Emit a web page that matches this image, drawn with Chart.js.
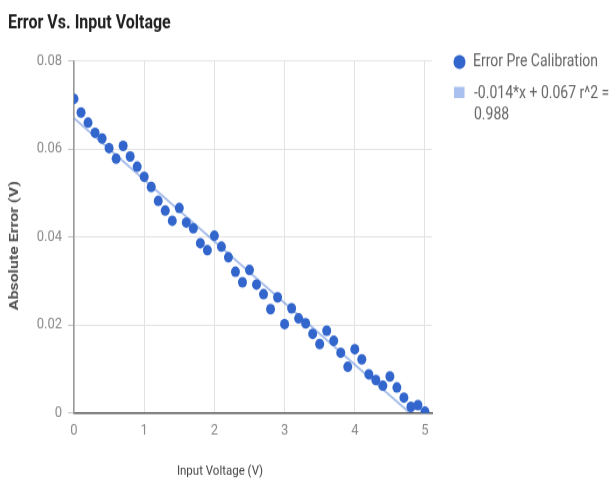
<!DOCTYPE html>
<html>
<head>
<meta charset="utf-8">
<title>Error Vs. Input Voltage</title>
<script src="https://cdn.jsdelivr.net/npm/chart.js@4.4.1/dist/chart.umd.min.js"></script>
<style>
  html, body { margin: 0; padding: 0; background: #fff; }
  body { width: 613px; height: 483px; }
  /* the reference is stretched vertically, so the whole chart is too */
  #wrap { width: 613px; height: 409px; transform: scaleY(1.181); transform-origin: 0 0; }
</style>
</head>
<body>
<div id="wrap"><canvas id="myChart" width="613" height="409"></canvas></div>
<script>
const chartTitle = 'Error Vs. Input Voltage';
const xAxisTitle = 'Input Voltage (V)';
const yAxisTitle = 'Absolute Error (V)';
const seriesName = 'Error Pre Calibration';
const trendName = ['-0.014*x + 0.067 r^2 =', '0.988'];

const voltage = [
  0.0, 0.1, 0.2, 0.3, 0.4, 0.5, 0.6, 0.7, 0.8, 0.9,
  1.0, 1.1, 1.2, 1.3, 1.4, 1.5, 1.6, 1.7, 1.8, 1.9,
  2.0, 2.1, 2.2, 2.3, 2.4, 2.5, 2.6, 2.7, 2.8, 2.9,
  3.0, 3.1, 3.2, 3.3, 3.4, 3.5, 3.6, 3.7, 3.8, 3.9,
  4.0, 4.1, 4.2, 4.3, 4.4, 4.5, 4.6, 4.7, 4.8, 4.9,
  5.0
];
const absError = [
  0.0714, 0.0683, 0.0660, 0.0637, 0.0624, 0.0602, 0.0578, 0.0607, 0.0583, 0.0560,
  0.0537, 0.0514, 0.0482, 0.0460, 0.0437, 0.0466, 0.0433, 0.0420, 0.0386, 0.0370,
  0.0403, 0.0378, 0.0354, 0.0321, 0.0297, 0.0325, 0.0292, 0.0270, 0.0236, 0.0263,
  0.0202, 0.0238, 0.0215, 0.0204, 0.0180, 0.0157, 0.0187, 0.0164, 0.0137, 0.0105,
  0.0145, 0.0122, 0.0088, 0.0075, 0.0062, 0.0083, 0.0058, 0.0035, 0.0014, 0.0018,
  0.0003
];
// end points of the fitted trend line
const trendX = [0, 5];
const trendY = [0.067, -0.003];

const xTicks = [0, 1, 2, 3, 4, 5];
const yTicks = [0, 0.02, 0.04, 0.06, 0.08];

const pointBlue = '#3366cc';
const trendBlue = 'rgba(51, 102, 204, 0.42)';

Chart.defaults.font.family = 'Roboto, sans-serif';

// titles and legend are placed by hand like the original
const annotate = {
  id: 'annotate',
  afterDraw(chart) {
    const ctx = chart.ctx;
    ctx.save();
    ctx.textBaseline = 'middle';
    ctx.textAlign = 'left';

    ctx.fillStyle = '#212121';
    ctx.font = 'bold 16px Roboto';
    ctx.fillText(chartTitle, 8, 19.5);

    ctx.fillStyle = '#444';
    ctx.font = '11.5px Roboto';
    ctx.textAlign = 'center';
    ctx.fillText(xAxisTitle, 220, 399);

    ctx.save();
    ctx.translate(15, 208);
    ctx.rotate(-Math.PI / 2);
    ctx.fillStyle = '#555';
    ctx.font = 'bold 13.5px Roboto';
    ctx.fillText(yAxisTitle, 0, 0);
    ctx.restore();

    // legend
    ctx.textAlign = 'left';
    ctx.fillStyle = pointBlue;
    ctx.beginPath();
    ctx.arc(459.5, 52.5, 6, 0, Math.PI * 2);
    ctx.fill();
    ctx.fillStyle = '#aac0ee';
    ctx.fillRect(454, 73.5, 10.5, 9.5);

    ctx.fillStyle = '#666';
    ctx.font = '14px Roboto';
    ctx.fillText(seriesName, 473, 52.5);
    ctx.fillText(trendName[0], 474, 79);
    ctx.fillText(trendName[1], 474, 97.5);
    ctx.restore();
  }
};

const ctx = document.getElementById('myChart').getContext('2d');
const chartInstance = new Chart(ctx, {
  type: 'scatter',
  data: {
    datasets: [
      {
        label: trendName.join(' '),
        type: 'line',
        data: trendX.map((x, i) => ({ x: x, y: trendY[i] })),
        borderColor: trendBlue,
        borderWidth: 2,
        pointRadius: 0,
        fill: false,
        order: 2
      },
      {
        label: seriesName,
        data: voltage.map((v, i) => ({ x: v, y: absError[i] })),
        backgroundColor: pointBlue,
        borderWidth: 0,
        pointRadius: 4.5,
        pointHoverRadius: 4.5,
        order: 1
      }
    ]
  },
  options: {
    responsive: false,
    animation: false,
    devicePixelRatio: 1,
    layout: {
      autoPadding: false,
      padding: { top: 51.65, bottom: 0, left: 0, right: 181 }
    },
    plugins: {
      legend: { display: false },
      title: { display: false },
      tooltip: { enabled: false }
    },
    scales: {
      x: {
        type: 'linear',
        min: 0,
        max: 5.1,
        afterFit: scale => { scale.height = 59.3; },
        afterBuildTicks: scale => { scale.ticks = xTicks.map(v => ({ value: v })); },
        ticks: { color: '#8a8a8a', font: { size: 13 }, padding: 7, includeBounds: false },
        grid: { color: '#e3e3e3', drawTicks: false },
        border: { color: '#555', width: 1.5 }
      },
      y: {
        min: 0,
        max: 0.08,
        afterFit: scale => { scale.width = 74; },
        afterBuildTicks: scale => { scale.ticks = yTicks.map(v => ({ value: v })); },
        ticks: {
          color: '#8a8a8a',
          font: { size: 13 },
          padding: 6,
          callback: v => (v === 0 ? '0' : v.toFixed(2))
        },
        grid: { color: '#e3e3e3', tickLength: 6, tickColor: '#c4c4c4' },
        border: { color: '#9a9a9a', width: 1.5 }
      }
    }
  },
  plugins: [annotate]
});
</script>
</body>
</html>
